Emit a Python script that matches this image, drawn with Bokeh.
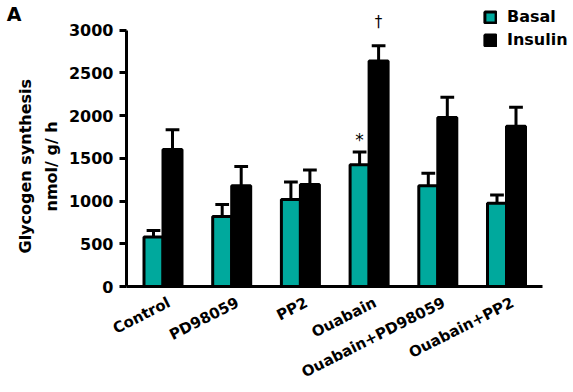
from bokeh.plotting import figure
from bokeh.models import (Range1d, FixedTicker, Legend, LegendItem, ColumnDataSource,
                          Title, LinearAxis)
from bokeh.transform import dodge
from bokeh.embed import file_html
from bokeh.resources import INLINE
from bokeh.core.properties import value

# ---------------- data ----------------
categories = ["Control", "PD98059", "PP2", "Ouabain", "Ouabain+PD98059", "Ouabain+PP2"]
series = ["Basal", "Insulin"]
basal = [580, 820, 1020, 1425, 1180, 975]
basal_err = [75, 140, 205, 150, 145, 95]
insulin = [1605, 1180, 1195, 2640, 1980, 1875]
insulin_err = [230, 225, 170, 180, 235, 225]
basal_mark = ["", "", "", "*", "", ""]
insulin_mark = ["", "", "", "\u2020", "", ""]
y_ticks = [0, 500, 1000, 1500, 2000, 2500, 3000]
y_title = ["Glycogen synthesis", "nmol/ g/ h"]
panel_letter = "A"

# ---------------- styles / layout ----------------
TEAL = "#00a99d"
FONT = "DejaVu Sans"
LW = 3
W, H = 572, 392
FRAME_L, FRAME_B = 126, 288          # frame left / bottom in pixels
PX_PER_CAT = 68.7
FIRST_CENTER = 162.5
PX_PER_UNIT = 258 / 3000

x_lo = (FRAME_L - FIRST_CENTER) / PX_PER_CAT
x_hi = (W - FIRST_CENTER) / PX_PER_CAT
x_axis_end = (542 - FIRST_CENTER) / PX_PER_CAT
y_hi = FRAME_B / PX_PER_UNIT

pos = list(range(len(categories)))
src = ColumnDataSource(dict(
    pos=pos,
    basal=basal,
    basal_hi=[v + e for v, e in zip(basal, basal_err)],
    insulin=insulin,
    insulin_hi=[v + e for v, e in zip(insulin, insulin_err)],
    basal_mark=basal_mark,
    insulin_mark=insulin_mark,
))

p = figure(width=W, height=H,
           x_range=Range1d(x_lo, x_hi), y_range=Range1d(0, y_hi),
           output_backend="svg", toolbar_location=None,
           min_border_left=FRAME_L, min_border_right=0,
           min_border_top=0, min_border_bottom=H - FRAME_B)
p.xgrid.visible = False
p.ygrid.visible = False
p.outline_line_color = None
p.background_fill_color = "white"
p.border_fill_color = "white"

off = 0.1383
bw = 0.2766
cap = 0.1

rb = p.vbar(x=dodge("pos", -off), top="basal", width=bw, source=src,
            fill_color=TEAL, line_color="black", line_width=LW)
ri = p.vbar(x=dodge("pos", off), top="insulin", width=bw, source=src,
            fill_color="black", line_color="black", line_width=LW)

for o, lo, hi in ((-off, "basal", "basal_hi"), (off, "insulin", "insulin_hi")):
    p.segment(x0=dodge("pos", o), y0=lo, x1=dodge("pos", o), y1=hi,
              source=src, line_color="black", line_width=LW)
    p.segment(x0=dodge("pos", o - cap), y0=hi, x1=dodge("pos", o + cap), y1=hi,
              source=src, line_color="black", line_width=LW)

p.text(x=dodge("pos", -off), y="basal_hi", text="basal_mark", source=src,
       text_align="center", text_baseline="bottom", y_offset=-2,
       text_font=value(FONT), text_font_size="17px", text_color="black")
p.text(x=dodge("pos", off), y="insulin_hi", text="insulin_mark", source=src,
       text_align="center", text_baseline="bottom", y_offset=-15,
       text_font=value(FONT), text_font_size="15px", text_color="black")

# ---------------- axes ----------------
yax = p.yaxis[0]
yax.ticker = FixedTicker(ticks=y_ticks)
yax.bounds = (0, 3000)
yax.axis_line_width = LW
yax.major_tick_line_width = LW
yax.major_tick_out = 7
yax.major_tick_in = 0
yax.minor_tick_line_color = None
yax.major_label_text_font = FONT
yax.major_label_text_font_style = "bold"
yax.major_label_text_font_size = "16px"
yax.major_label_text_color = "black"
yax.major_label_standoff = 6

label_shift = 0.09
x_ticks = [i + label_shift for i in pos]
xax = p.xaxis[0]
xax.ticker = FixedTicker(ticks=x_ticks)
xax.major_label_overrides = {t: c for t, c in zip(x_ticks, categories)}
xax.bounds = (x_lo, x_axis_end)
xax.axis_line_width = LW
xax.major_tick_line_color = None
xax.minor_tick_line_color = None
xax.major_label_orientation = 0.47
xax.major_label_text_font = FONT
xax.major_label_text_font_style = "bold"
xax.major_label_text_font_size = "15px"
xax.major_label_text_color = "black"
xax.major_label_standoff = 9

# y title, two centred lines
p.add_layout(Title(text=y_title[1], align="left", offset=75, vertical_align="bottom",
                   standoff=10, text_font=FONT, text_font_style="bold",
                   text_font_size="16px", text_color="black"), "left")
p.add_layout(Title(text=y_title[0], align="left", offset=33, vertical_align="bottom",
                   standoff=-1, text_font=FONT, text_font_style="bold",
                   text_font_size="16px", text_color="black"), "left")

# panel letter
a_tick = 3192
ax_a = LinearAxis(ticker=FixedTicker(ticks=[a_tick]),
                  major_label_overrides={a_tick: panel_letter},
                  axis_line_color=None, major_tick_line_color=None,
                  minor_tick_line_color=None, major_tick_out=0, major_tick_in=0,
                  major_label_standoff=-7, major_label_text_font=FONT,
                  major_label_text_font_style="bold", major_label_text_font_size="19px",
                  major_label_text_color="black")
p.add_layout(ax_a, "left")

legend = Legend(items=[LegendItem(label=series[0], renderers=[rb]),
                       LegendItem(label=series[1], renderers=[ri])],
                location=(357, 237), orientation="vertical", padding=0, spacing=4,
                glyph_width=14, glyph_height=14, label_height=14, label_standoff=10,
                border_line_color=None, background_fill_alpha=0,
                label_text_font=FONT, label_text_font_style="bold",
                label_text_font_size="16px", label_text_color="black")
p.add_layout(legend, "center")

open("out.html", "w").write(file_html(p, INLINE))
